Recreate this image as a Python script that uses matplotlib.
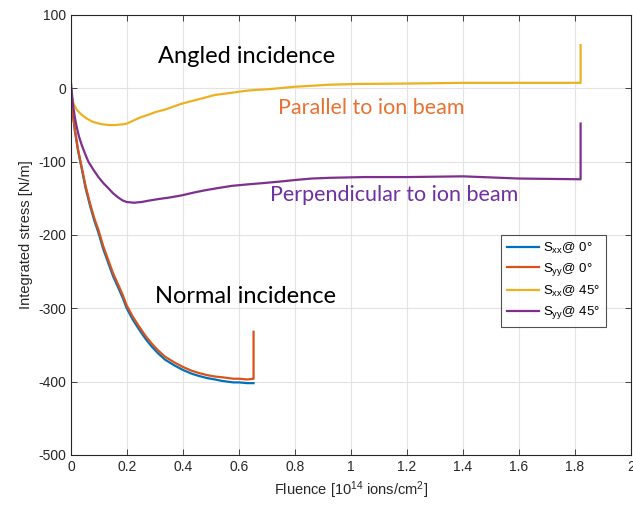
import numpy as np
import matplotlib
matplotlib.use("Agg")
import matplotlib.pyplot as plt

# MATLAB default colours
c_blue = "#0072BD"
c_orange = "#D95319"
c_yellow = "#EDB120"
c_purple = "#7E2F8E"

# Normal incidence, Sxx @ 0 deg (blue)
fx_0 = [0.0, 0.005, 0.014, 0.025, 0.038, 0.052, 0.068, 0.083, 0.098, 0.115,
        0.133, 0.15, 0.169, 0.185, 0.199, 0.22, 0.24, 0.265, 0.288, 0.31,
        0.336, 0.37, 0.40, 0.43, 0.455, 0.485, 0.514, 0.54, 0.56, 0.58,
        0.60, 0.63, 0.652]
sxx_0 = [-10, -30, -58, -85, -109, -136, -160, -180, -197, -219,
         -238, -256, -272, -286, -300, -315, -327, -341, -352, -361,
         -370, -378, -384, -389, -392, -395, -397, -399, -400, -401,
         -401, -402, -402]

# Normal incidence, Syy @ 0 deg (orange), ends with a spike
fx_0y = [0.0, 0.005, 0.014, 0.025, 0.038, 0.052, 0.068, 0.083, 0.098, 0.115,
         0.133, 0.15, 0.169, 0.185, 0.199, 0.22, 0.24, 0.265, 0.288, 0.31,
         0.336, 0.37, 0.40, 0.43, 0.455, 0.485, 0.514, 0.54, 0.56, 0.58,
         0.60, 0.63, 0.652, 0.652]
syy_0 = [-10, -29, -57, -83, -107, -133, -157, -177, -193, -215,
         -234, -252, -268, -282, -296, -311, -323, -337, -348, -357,
         -366, -374, -380, -385, -388, -391, -393, -394, -395, -396,
         -396, -397, -396, -332]

# Angled incidence, Sxx @ 45 deg (yellow)
fx_45x = [0.0, 0.004, 0.008, 0.02, 0.038, 0.055, 0.074, 0.09, 0.11, 0.135,
          0.158, 0.188, 0.20, 0.217, 0.245, 0.276, 0.305, 0.336, 0.365, 0.395,
          0.425, 0.455, 0.485, 0.514, 0.545, 0.574, 0.603, 0.633, 0.663, 0.693,
          0.74, 0.794, 0.86, 0.925, 1.03, 1.2, 1.4, 1.6, 1.82, 1.82]
sxx_45 = [-2, -12, -20, -29, -36, -41, -45, -47, -49, -50,
          -50, -49, -48, -45, -40, -36, -32, -29, -25, -21,
          -18, -15, -12, -9, -7.5, -6, -4.5, -3, -2, -1.5,
          0, 2, 3.5, 5, 6, 6.5, 7.5, 7.5, 7.5, 59]

# Angled incidence, Syy @ 45 deg (purple)
fx_45y = [0.0, 0.004, 0.008, 0.014, 0.02, 0.028, 0.038, 0.05, 0.062, 0.08,
          0.098, 0.115, 0.133, 0.15, 0.169, 0.185, 0.199, 0.225, 0.252, 0.28,
          0.312, 0.35, 0.395, 0.44, 0.479, 0.525, 0.574, 0.63, 0.693, 0.75,
          0.80, 0.86, 0.925, 1.05, 1.2, 1.4, 1.6, 1.82, 1.82]
syy_45 = [7, -10, -25, -40, -52, -65, -77, -89, -100, -111,
          -121, -129, -136, -143, -149, -153, -155, -156, -155, -153,
          -151, -149, -146, -142, -139, -136, -133, -131, -129, -127,
          -125, -123, -122, -121, -121, -120, -123, -124, -48]

xticks = np.arange(0, 2.01, 0.2)
xtick_labels = ["0", "0.2", "0.4", "0.6", "0.8", "1", "1.2", "1.4", "1.6", "1.8", "2"]
yticks = np.arange(-500, 101, 100)

plt.rcParams["font.family"] = ["Liberation Sans", "DejaVu Sans"]
plt.rcParams["axes.unicode_minus"] = False
plt.rcParams["mathtext.fontset"] = "custom"
plt.rcParams["mathtext.rm"] = "Liberation Sans"
plt.rcParams["mathtext.it"] = "Liberation Sans"

fig = plt.figure(figsize=(6.33, 5.08), dpi=100)
ax = fig.add_axes([71 / 633, 1 - 455 / 508, 560 / 633, 440 / 508])

lw = 1.6
ax.plot(fx_0, sxx_0, color=c_blue, lw=lw, label=r"S$_{xx}$@ 0$\degree$")
ax.plot(fx_0y, syy_0, color=c_orange, lw=lw, label=r"S$_{yy}$@ 0$\degree$")
ax.plot(fx_45x, sxx_45, color=c_yellow, lw=lw, label=r"S$_{xx}$@ 45$\degree$")
ax.plot(fx_45y, syy_45, color=c_purple, lw=lw, label=r"S$_{yy}$@ 45$\degree$")

ax.set_xlim(0, 2)
ax.set_ylim(-500, 100)
ax.set_xticks(xticks)
ax.set_xticklabels(xtick_labels)
ax.set_yticks(yticks)
ax.tick_params(direction="in", top=True, right=True, labelsize=10,
               colors="#262626", length=4, width=0.6)
for s in ax.spines.values():
    s.set_color("#262626")
    s.set_linewidth(0.8)
ax.grid(True, color="#e3e3e3", lw=0.8)
ax.set_axisbelow(True)

ax.set_xlabel(r"Fluence [10$^{14}$ ions/cm$^2$]", fontsize=10.5, color="#262626")
ax.set_ylabel("Integrated stress [N/m]", fontsize=10.5, color="#262626")

tfont = ["Lato", "DejaVu Sans"]
ax.text(0.31, 43, "Angled incidence", fontsize=17, family=tfont, color="black",
        va="center", ha="left")
ax.text(0.74, -27, "Parallel to ion beam", fontsize=15.5, family=tfont,
        color="#E97132", va="center", ha="left")
ax.text(0.71, -146, "Perpendicular to ion beam", fontsize=15.5, family=tfont,
        color="#7030A0", va="center", ha="left")
ax.text(0.30, -284, "Normal incidence", fontsize=17, family=tfont, color="black",
        va="center", ha="left")

leg = ax.legend(loc="upper left", bbox_to_anchor=(0.756, 0.516), fontsize=9.5,
                frameon=True, fancybox=False, handlelength=2.4,
                borderpad=0.45, labelspacing=0.42, handletextpad=0.35)
leg.get_frame().set_edgecolor("#262626")
leg.get_frame().set_linewidth(0.8)

fig.savefig("out.png", dpi=100)
